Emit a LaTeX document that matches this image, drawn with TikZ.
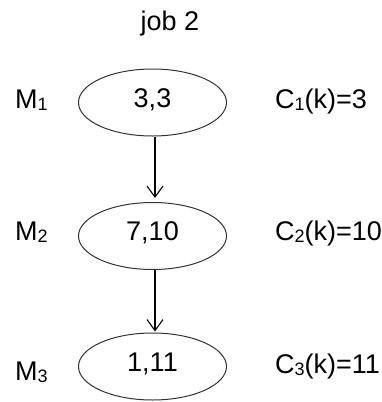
\documentclass[tikz,border=0pt]{standalone}
\usepackage{fontspec}
\setmainfont{Liberation Sans}
\usetikzlibrary{arrows.meta,shapes.geometric}

\newcommand{\idx}[1]{{\fontsize{18}{20}\selectfont\raisebox{-2.5pt}{#1}}}

\begin{document}
\begin{tikzpicture}[
    x=1pt, y=-1pt,
    every node/.style={inner sep=0pt, font=\fontsize{27}{32}\selectfont},
    vorgang/.style={
      ellipse,
      draw=black!80,
      line width=1pt,
      minimum width=148pt,
      minimum height=67pt,
      text height=19.5pt,
      text depth=10pt},
    beschriftung/.style={anchor=base west},
    pfeil/.style={-{Straight Barb[length=11pt,width=16pt]}, line width=1.1pt}
    ]

  \useasboundingbox (0,0) rectangle (381,402);

  \node at (170,30) (job) [anchor=base] {job 2};

\node at (152.5,102.5) (op1) [vorgang] {3,3};
\node at (152.5,236) (op2) [vorgang] {7,10};
\node at (152.5,366.5) (op3) [vorgang] {1,11};

\node at (15,108) (m1) [beschriftung] {M\idx{1}};
\node at (15,240) (m2) [beschriftung] {M\idx{2}};
\node at (15,380) (m3) [beschriftung] {M\idx{3}};

\node at (275,108) (c1) [beschriftung] {C\idx{1}(k)=3};
\node at (275,240) (c2) [beschriftung] {C\idx{2}(k)=10};
\node at (275,373) (c3) [beschriftung] {C\idx{3}(k)=11};

  \path[pfeil]
        ([xshift=2.5pt]op1.south) edge[shorten >=4pt] ([xshift=2.5pt]op2.north)
        ([xshift=2.5pt]op2.south) edge[shorten >=1pt] ([xshift=2.5pt]op3.north)
   ;

\end{tikzpicture}
\end{document}
